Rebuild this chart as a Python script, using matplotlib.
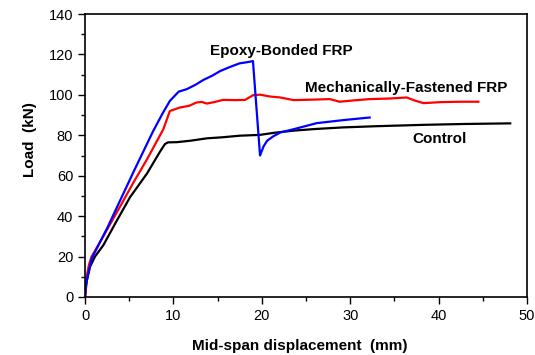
import matplotlib.pyplot as plt
import matplotlib.ticker as ticker

plt.rcParams['font.family'] = ['Liberation Sans', 'DejaVu Sans']

# Control beam
control_x = [0, 0.2, 0.57, 1.13, 2.07, 3.5, 5.1, 7.0, 8.5, 9.05, 9.4, 10.4, 11.9, 13.8,
             15.5, 17.5, 19.8, 21.5, 23.6, 26.0, 29.2, 33.0, 38.6, 43.0, 48.1]
control_y = [0, 8, 15, 20, 25.6, 37, 49.4, 61, 72, 75.7, 76.5, 76.6, 77.3, 78.5,
             79.0, 79.8, 80.2, 81.3, 82.3, 83.1, 83.9, 84.5, 85.2, 85.6, 85.9]

# Mechanically-fastened FRP
mf_x = [0, 0.19, 0.45, 0.75, 2.0, 4.0, 5.46, 7.0, 8.86, 9.6, 10.7, 11.8, 12.6, 13.2,
        13.8, 14.6, 15.6, 17.0, 18.1, 19.0, 19.8, 20.9, 22.1, 23.6, 25.5, 27.7, 28.8,
        30.5, 32.2, 34.5, 36.4, 37.3, 38.3, 40.2, 42.5, 44.5]
mf_y = [0, 10, 16, 20, 29.5, 45, 56.5, 68, 83, 92, 93.7, 94.6, 96.2, 96.5,
        95.7, 96.4, 97.5, 97.4, 97.5, 99.8, 100.1, 99.2, 98.7, 97.4, 97.6, 97.9, 96.6,
        97.3, 97.9, 98.2, 98.7, 97.2, 95.9, 96.4, 96.6, 96.6]

# Epoxy-bonded FRP
eb_x = [0, 0.1, 0.37, 0.75, 2.5, 4.0, 5.5, 7.7, 8.8, 9.6, 10.6, 11.5, 12.5, 13.4, 14.4,
        15.3, 16.4, 17.5, 18.4, 19.0, 19.8, 20.2, 20.6, 21.3, 22.1, 23.6, 26.2, 29.2, 32.2]
eb_y = [0, 6, 11.7, 19, 34, 48, 62, 82, 91, 97, 101.6, 102.8, 105, 107.4, 109.5,
        111.8, 113.8, 115.6, 116.2, 116.7, 70, 74.5, 77.3, 79.5, 81.4, 83, 86, 87.5, 88.8]

fig = plt.figure(figsize=(5.35, 3.55), dpi=100)
ax = fig.add_axes([85 / 535, 1 - 297 / 355, 442 / 535, 283 / 355])

ax.plot(control_x, control_y, color='black', linewidth=1.6)
ax.plot(mf_x, mf_y, color='#ff0000', linewidth=1.6)
ax.plot(eb_x, eb_y, color='#0000ff', linewidth=1.6)

ax.text(14.1, 121.8, 'Epoxy-Bonded FRP', fontsize=11, fontweight='bold', va='center')
ax.text(24.9, 103.4, 'Mechanically-Fastened FRP', fontsize=11, fontweight='bold', va='center')
ax.text(37.0, 78.3, 'Control', fontsize=11, fontweight='bold', va='center')

ax.set_xlim(0, 50)
ax.set_ylim(0, 140)
ax.xaxis.set_major_locator(ticker.MultipleLocator(10))
ax.xaxis.set_minor_locator(ticker.MultipleLocator(5))
ax.yaxis.set_major_locator(ticker.MultipleLocator(20))
ax.yaxis.set_minor_locator(ticker.MultipleLocator(10))
ax.tick_params(which='both', direction='out', labelsize=10.5, width=1)
ax.tick_params(which='major', length=5)
ax.tick_params(which='minor', length=3)
for s in ax.spines.values():
    s.set_linewidth(1.2)

ax.set_xlabel('Mid-span displacement  (mm)', fontsize=11, fontweight='bold')
ax.xaxis.set_label_coords(0.486, -0.148)
ax.set_ylabel('Load  (kN)', fontsize=11, fontweight='bold')
ax.yaxis.set_label_coords(-0.109, 0.555)

fig.savefig('out.png', dpi=100)
